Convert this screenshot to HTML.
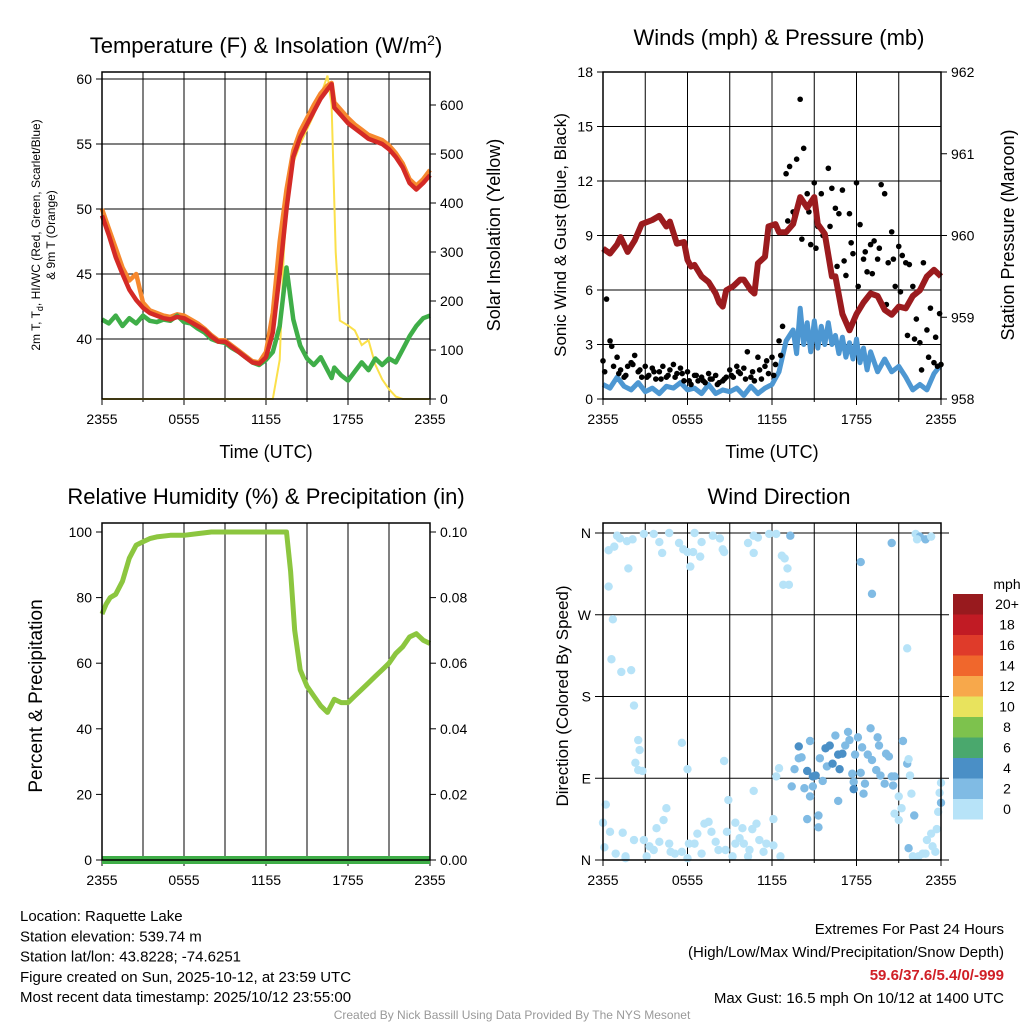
<!DOCTYPE html>
<html><head><meta charset="utf-8"><style>
html,body{margin:0;padding:0;background:#fff;}
svg{display:block;font-family:"Liberation Sans",sans-serif;}
</style></head><body>
<svg id="c" width="1024" height="1024" viewBox="0 0 1024 1024"></svg>
<script>
// ---------- DATA ----------
const xTickLabels = ["2355","0555","1155","1755","2355"];
const tempHours = [0,0.5,1,1.5,2,2.5,3,3.5,4,4.5,5,5.5,6,6.5,7,7.5,8,8.5,9,9.5,10,10.5,11,11.5,12,12.5,13,13.5,14,14.5,15,15.5,16,16.5,16.8,17,17.5,18,18.5,19,19.5,20,20.5,21,21.5,22,22.5,23,23.5,24];
const tempRed = [49.5,48,46.3,45,43.8,43,42.4,42,41.8,41.6,41.5,41.7,41.6,41.3,41,40.7,40.2,39.8,39.8,39.4,39,38.6,38.2,38.1,38.6,40.5,45,50,54,55.5,56.5,57.5,58.5,59.2,59.6,57.8,57.2,56.6,56.2,55.8,55.4,55.2,55,54.6,54,53.2,52,51.5,52,52.6];
const temp9m = [50,48.5,47,45.5,44.5,45,42.8,42.2,42,41.8,41.7,41.9,41.8,41.5,41.2,40.8,40.3,39.9,39.9,39.5,39.1,38.7,38.3,38.2,39,42,47.5,51.5,54.5,56,57,58,58.9,59.5,59.7,58.2,57.6,57,56.5,56.1,55.7,55.5,55.3,54.9,54.3,53.5,52.3,51.8,52.3,53];
const tempDew = [41.5,41.2,41.8,41,41.6,41.2,41.8,41.4,41.3,41.5,41.4,41.8,41.3,41.2,40.8,40.5,40,39.8,39.7,39.3,39,38.6,38.2,38,38.4,39,41,45.5,41.5,39.5,38.5,38,38.6,37.6,37,37.8,37.2,36.8,37.5,38.2,37.6,38.5,38,38.5,38.2,39.2,40.2,41,41.6,41.8];
const solarHours = [0,12.5,13,13.3,13.7,14.5,15.5,16,16.5,16.8,17.1,17.4,18,18.5,19,19.5,20,20.5,21,21.5,22,24];
const solarVals = [0,0,80,300,460,520,580,620,660,600,300,160,150,140,110,120,70,40,20,5,0,0];

const windHours = [0,0.5,1,1.5,2,2.5,3,3.5,4,4.5,5,5.5,6,6.5,7,7.5,8,8.5,9,9.5,10,10.5,11,11.5,12,12.5,13,13.5,13.75,14,14.25,14.5,14.75,15,15.25,15.5,15.75,16,16.25,16.5,16.75,17,17.25,17.5,17.75,18,18.25,18.5,18.75,19,19.5,20,20.5,21,21.5,22,22.5,23,23.5,24];
const windVals = [0.8,0.6,1.2,0.7,0.5,0.9,0.4,0.6,0.3,0.7,0.6,0.9,0.5,0.6,0.3,0.8,0.3,0.5,0.4,0.6,0.2,0.7,0.3,0.6,0.8,1.5,3.2,3.8,2.5,5.0,3.0,4.2,2.6,4.3,2.8,4.0,3.0,4.2,3.0,3.5,2.5,3.4,2.3,3.1,2.2,3.3,2.0,2.8,1.6,2.6,1.5,2.2,1.5,1.8,1.2,0.5,0.8,0.5,1.4,1.9];
const gustHours = [0,0.25,0.5,0.75,1,1.25,1.5,1.75,2,2.25,2.5,2.75,3,3.25,3.5,3.75,4,4.25,4.5,4.75,5,5.25,5.5,5.75,6,6.25,6.5,6.75,7,7.25,7.5,7.75,8,8.25,8.5,8.75,9,9.25,9.5,9.75,10,10.25,10.5,10.75,11,11.25,11.5,11.75,12,12.25,12.5,12.75,13,13.25,13.5,13.75,14,14.25,14.5,14.75,15,15.25,15.5,15.75,16,16.25,16.5,16.75,17,17.25,17.5,17.75,18,18.25,18.5,18.75,19,19.25,19.5,19.75,20,20.25,20.5,20.75,21,21.25,21.5,21.75,22,22.25,22.5,22.75,23,23.25,23.5,23.75,24,
  0.12,0.62,1.12,1.62,2.12,2.62,3.12,3.62,4.12,4.62,5.12,5.62,6.12,6.62,7.12,7.62,8.12,8.62,9.12,9.62,10.12,10.62,11.12,11.62,12.12,12.62,13.12,13.62,14.12,14.62,15.12,15.62,16.12,16.62,17.12,17.62,18.12,18.62,19.12,19.62,20.12,20.62,21.12,21.62,22.12,22.62,23.12,23.62,23.9];
const gustVals = [2.1,5.5,3.2,1.8,2.3,1.6,1.2,1.8,2.0,2.4,1.5,1.2,1.8,1.3,1.7,1.1,1.5,1.8,1.2,1.6,1.9,1.4,1.7,1.0,1.5,0.8,1.3,1.0,1.2,0.9,1.4,1.1,1.3,0.9,1.0,1.2,1.6,1.2,1.8,1.4,1.7,2.6,1.2,1.0,2.3,1.1,1.8,1.4,2.3,1.9,3.2,4.0,12.4,12.8,10.3,13.2,16.5,13.8,11.3,8.5,11.9,9.5,11.3,9.0,12.7,11.6,10.5,10.2,11.5,6.8,10.2,8.0,11.9,9.6,7.7,7.0,8.5,8.7,7.7,11.8,11.3,7.5,9.2,6.2,8.4,7.9,7.5,7.4,6.2,4.4,3.1,7.5,3.8,5.0,2.0,1.8,1.9,
  1.5,2.9,1.4,1.3,1.9,1.6,1.2,1.5,1.1,1.3,1.2,1.4,1.0,1.3,1.0,1.1,0.8,1.1,1.3,1.5,1.1,1.5,1.6,2.1,1.3,2.4,9.8,10.1,8.8,10.3,8.3,9.0,9.5,7.3,7.6,8.6,6.2,8.1,6.9,8.3,5.2,7.7,5.9,3.5,3.3,1.6,2.3,3.4,4.7];
const presHours = [0,0.5,1,1.25,1.75,2.25,2.75,3.5,4,4.5,4.75,5.25,5.75,6,6.25,6.5,7,7.5,8,8.25,8.5,8.75,9.25,9.75,10,10.5,10.75,11,11.5,11.75,12.25,12.5,13,13.5,14,14.5,15,15.25,15.75,16.25,16.5,17,17.5,18,18.5,19,19.5,20,20.5,21,21.5,22,22.5,23,23.5,24];
const presVals = [959.84,959.78,959.89,959.98,959.80,959.94,960.14,960.19,960.24,960.11,960.17,959.90,959.92,959.70,959.62,959.64,959.50,959.43,959.29,959.18,959.13,959.33,959.38,959.46,959.46,959.33,959.29,959.66,959.74,960.11,960.14,960.04,960.04,960.14,960.47,960.34,960.47,960.14,960.02,959.50,959.50,959.04,958.84,959.04,959.18,959.29,959.26,959.09,959.03,959.13,959.11,959.26,959.33,959.50,959.58,959.50];

const rhHours = [0,0.3,0.6,1,1.5,2,2.5,3,3.5,4,5,6,7,8,9,10,11,12,13,13.5,13.8,14.1,14.5,15,15.5,16,16.5,17,17.5,18,18.5,19,19.5,20,20.5,21,21.5,22,22.5,23,23.5,24];
const rhVals = [75,78,80,81,85,92,96,97,98,98.5,99,99,99.5,100,100,100,100,100,100,100,88,70,58,53,50,47,45,49,48,48,50,52,54,56,58,60,63,65,68,69,67,66];
const precipVals = [0,0,0,0,0];

const wdHours = [0.4,0.8,1,1.2,1.7,2.1,1.8,0.4,0.7,0.6,1.3,2.0,2.2,2.5,2.6,2.3,2.5,2.8,0.2,0,0.5,1.4,0.1,0.9,1.6,2.2,2.9,2.9,3.6,4,4.2,4.7,5.4,5.7,6,6.4,6.2,6.9,7,6.5,7.8,8.3,8.5,8.6,10.3,10.7,10.7,11,11.8,12.3,13.3,12.7,12.9,13.1,12.8,13.2,5.6,6,8.6,8.9,10.7,12.5,12.3,13.4,13.6,13.9,13.9,14.1,14.3,14.5,14.7,14.7,14.9,15.1,14.9,14.5,15.3,15.3,15.4,15.6,15.8,15.9,16.1,16.3,16.5,16.7,16.8,16.7,17,17.2,17.4,17.5,17.7,17.8,17.8,17.9,18.1,18.4,18.3,18.5,18.6,18.8,19,19.1,19.4,19.5,19.6,19.7,20,20.1,20.3,20.5,20.7,20.6,21,21.2,21,20.7,21.3,21.6,21.7,21.8,21.9,22.1,21.7,22,22.4,22.7,22.9,23,23.3,23.4,23.6,23.7,23.8,23.9,24,24,20.5,21.6,19.1,18.3,22.2,22.5,22.9,23.3,22.3,3.1,3.3,3.6,4,3.8,4.3,4.5,4.7,4.8,5.1,5.6,6,6.5,6.7,7.2,7.5,7.7,8,8.2,8.7,8.8,9.4,9.4,9.7,9.9,10,10.4,10.6,10.9,11.1,11.4,11.6,12.1,12.1,12.6,10.3,9.2,7,6.1,1.6];
const wdDirs = [341,345,357,354,351,353,321,301,265,221,207,209,170,132,121,107,99,98,61,41,31,30,14,7,4,22,22,359,359,350,338,360,349,342,339,339,323,334,350,360,357,354,342,339,349,338,357,355,359,359,357,335,332,321,303,303,129,100,109,66,76,101,92,81,100,112,125,113,79,98,131,70,92,93,81,45,36,49,112,87,123,103,126,106,137,116,100,65,117,126,141,132,95,86,78,116,135,124,96,73,84,116,145,110,99,135,126,93,84,117,114,92,92,82,70,57,44,51,131,106,111,93,73,49,13,4,4,7,7,22,29,15,9,34,53,74,85,63,349,233,293,328,359,356,353,356,353,4,15,11,20,35,44,57,18,9,7,9,2,18,29,40,42,31,20,11,11,31,41,18,24,35,18,11,34,40,22,9,18,45,16,4,4,4,7,18,2];
const wdSpeeds = [1,1,1,1,1,1,1,1,1,1,1,1,1,1,1,1,1,1,1,1,1,1,1,1,1,1,1,1,1,1,1,1,1,1,1,1,1,1,1,1,1,1,1,1,1,1,1,1,1,1,3,1,1,1,1,1,1,1,1,1,1,1,1,3,3,3,4.2,3,3,4.2,3,3,4.2,4.2,3,3.5,3,3,3,3,4.2,3,4.2,4.2,3,4.2,4.2,3,4.2,3,3,3,3,3,4.2,3,3,3,3,3,3,3,3,3,3,3,3,3,3,3,3,3,3,3,1,1,1,1,3,3,1,1,1,3,3,1,1,1,1,1,1,1,1,1,1,1,1,3,3,1,3,3,1,3,3,1,1,1,1,1,1,1,1,1,1,1,1,1,1,1,1,1,1,1,1,1,1,1,1,1,1,1,1,1,1,1,1,1,1,1,1,1,1,1,1,1,1,1,1,1];

const cbLabels = ["20+","18","16","14","12","10","8","6","4","2","0"];
const cbColors = ["#981a1e","#c11b24","#df3b2a","#f0672c","#f7a84b","#e8e35d","#7dc24d","#4aa86d","#4a8fc6","#80bbe4","#b7e3f8"];

// ---------- HELPERS ----------
const svg = document.getElementById('c');
const NS = "http://www.w3.org/2000/svg";
function mk(tag, attrs, parent){const e=document.createElementNS(NS,tag);for(const k in attrs)e.setAttribute(k,attrs[k]);(parent||svg).appendChild(e);return e;}
function txt(s, x, y, size, anchor, parent, extra){const t=mk('text',Object.assign({x:x,y:y,'font-size':size,'text-anchor':anchor||'middle',fill:'#000'},extra||{}),parent);t.textContent=s;return t;}
function lin(d0,d1,r0,r1){return v=>r0+(v-d0)/(d1-d0)*(r1-r0);}
function linePath(xs, ys, sx, sy){return xs.map((h,i)=>(i?'L':'M')+sx(h).toFixed(1)+','+sy(ys[i]).toFixed(1)).join('');}

function frame(name, L, R, T, B, sx){
  const g = mk('g',{});
  
  
  for(let h=3;h<24;h+=3){mk('line',{x1:sx(h),x2:sx(h),y1:T,y2:B,stroke:'#000','stroke-width':1},g);}
  xTickLabels.forEach((s,i)=>{const x=sx(i*6);mk('line',{x1:x,x2:x,y1:B,y2:B+6,stroke:'#000'},g);txt(s,x,B+25,14,'middle',g);});
  for(let h=0;h<=24;h+=3){const x=sx(h);mk('line',{x1:x,x2:x,y1:B,y2:B+3,stroke:'#000'},g);}
  return g;
}
function border(g,L,R,T,B){mk('rect',{x:L,y:T,width:R-L,height:B-T,fill:'none',stroke:'#000','stroke-width':1.5},g);}

// ---------- PANEL 1: temperature ----------
(function(){
  const L=102,R=430,T=72,B=399;
  const sx=lin(0,24,L,R), sy=lin(40,60,339,79), sr=lin(0,600,399,105);
  const g=frame('temperature-panel',L,R,T,B,sx);
  [40,45,50,55,60].forEach(v=>{mk('line',{x1:L,x2:R,y1:sy(v),y2:sy(v),stroke:'#000'},g);mk('line',{x1:L-6,x2:L,y1:sy(v),y2:sy(v),stroke:'#000'},g);txt(String(v),L-10,sy(v)+5,14,'end',g);});
  for(let v=0;v<=600;v+=100){mk('line',{x1:R,x2:R+6,y1:sr(v),y2:sr(v),stroke:'#000'},g);txt(String(v),R+10,sr(v)+5,14,'start',g);}
  const ys=mk('path',{d:linePath(solarHours,solarVals,sx,sr),fill:'none',stroke:'#fbe04a','stroke-width':2},g);
  
  const go=mk('path',{d:linePath(tempHours,temp9m,sx,sy),fill:'none',stroke:'#f6882e','stroke-width':4.5,'stroke-linejoin':'round'},g);
  
  const gd=mk('path',{d:linePath(tempHours,tempDew,sx,sy),fill:'none',stroke:'#3fae48','stroke-width':4.5,'stroke-linejoin':'round'},g);
  
  const gr=mk('path',{d:linePath(tempHours,tempRed,sx,sy),fill:'none',stroke:'#d42a26','stroke-width':4.5,'stroke-linejoin':'round'},g);
  
  border(g,L,R,T,B);
  const t=mk('text',{x:266,y:53,'font-size':22,'text-anchor':'middle'},g);t.innerHTML='Temperature (F) &amp; Insolation (W/m<tspan dy="-8" font-size="14">2</tspan><tspan dy="8">)</tspan>';
  
  txt('Time (UTC)',266,458,18,'middle',g);
  const yl=mk('text',{transform:'translate(40,235) rotate(-90)','font-size':12,'text-anchor':'middle'},g);
  yl.innerHTML='2m T, T<tspan dy="3" font-size="9">d</tspan><tspan dy="-3">, HI/WC (Red, Green, Scarlet/Blue)</tspan>';
  
  const yl2=mk('text',{transform:'translate(55,235) rotate(-90)','font-size':12,'text-anchor':'middle'},g);yl2.textContent='& 9m T (Orange)';
  const yr=mk('text',{transform:'translate(500,235) rotate(-90)','font-size':18,'text-anchor':'middle'},g);yr.textContent='Solar Insolation (Yellow)';
  
})();

// ---------- PANEL 2: winds ----------
(function(){
  const L=603,R=941,T=72,B=399;
  const sx=lin(0,24,L,R), sy=lin(0,18,B,T), sp=lin(958,962,B,T);
  const g=frame('winds-panel',L,R,T,B,sx);
  for(let v=0;v<=18;v+=3){mk('line',{x1:L,x2:R,y1:sy(v),y2:sy(v),stroke:'#000'},g);mk('line',{x1:L-6,x2:L,y1:sy(v),y2:sy(v),stroke:'#000'},g);txt(String(v),L-10,sy(v)+5,14,'end',g);}
  for(let v=958;v<=962;v++){mk('line',{x1:R,x2:R+6,y1:sp(v),y2:sp(v),stroke:'#000'},g);txt(String(v),R+10,sp(v)+5,14,'start',g);}
  const wb=mk('path',{d:linePath(windHours,windVals,sx,sy),fill:'none',stroke:'#4d97d2','stroke-width':5,'stroke-linejoin':'round'},g);
  
  gustHours.forEach((h,i)=>{const c=mk('circle',{cx:sx(h),cy:sy(gustVals[i]),r:2.8,fill:'#000'},g);
    
    });
  const pp=mk('path',{d:linePath(presHours,presVals,sx,sp),fill:'none',stroke:'#9b1b1e','stroke-width':6,'stroke-linejoin':'round'},g);
  
  border(g,L,R,T,B);
  txt('Winds (mph) & Pressure (mb)',779,45,22,'middle',g);
  txt('Time (UTC)',772,458,18,'middle',g);
  const yl=mk('text',{transform:'translate(566,235) rotate(-90)','font-size':17,'text-anchor':'middle'},g);yl.textContent='Sonic Wind & Gust (Blue, Black)';
  const yr=mk('text',{transform:'translate(1014,235) rotate(-90)','font-size':18,'text-anchor':'middle'},g);yr.textContent='Station Pressure (Maroon)';
})();

// ---------- PANEL 3: RH ----------
(function(){
  const L=102,R=430,T=523,B=860;
  const sx=lin(0,24,L,R), sy=lin(0,100,B,532), spr=lin(0,0.1,B,532);
  const g=frame('humidity-panel',L,R,T,B,sx);
  for(let v=0;v<=100;v+=20){mk('line',{x1:L-6,x2:L,y1:sy(v),y2:sy(v),stroke:'#000'},g);txt(String(v),L-10,sy(v)+5,14,'end',g);}
  for(let v=0;v<=5;v++){mk('line',{x1:R,x2:R+6,y1:spr(v*0.02),y2:spr(v*0.02),stroke:'#000'},g);txt((v*0.02).toFixed(2),R+10,spr(v*0.02)+5,14,'start',g);}
  const ph=[0,6,12,18,24];
  const pl=mk('path',{d:linePath(ph,precipVals,sx,spr),fill:'none',stroke:'#3fae48','stroke-width':8},g);
  
  const rl=mk('path',{d:linePath(rhHours,rhVals,sx,sy),fill:'none',stroke:'#8cc63f','stroke-width':5,'stroke-linejoin':'round'},g);
  
  border(g,L,R,T,B);
  txt('Relative Humidity (%) & Precipitation (in)',266,504,22,'middle',g);
  const yl=mk('text',{transform:'translate(42,696) rotate(-90)','font-size':19,'text-anchor':'middle'},g);yl.textContent='Percent & Precipitation';
})();

// ---------- PANEL 4: wind direction ----------
(function(){
  const L=603,R=941,T=523,B=860;
  const sx=lin(0,24,L,R), sy=lin(0,360,860,533);
  const g=frame('wind-direction-panel',L,R,T,B,sx);
  const dl=[["N",0],["E",90],["S",180],["W",270],["N",360]];
  dl.forEach(d=>{mk('line',{x1:L-8,x2:R+8,y1:sy(d[1]),y2:sy(d[1]),stroke:'#000'},g);txt(d[0],L-12,sy(d[1])+5,14,'end',g);});
  function col(s){const i=Math.min(10,Math.floor(s/2));return cbColors[10-i];}
  wdHours.forEach((h,i)=>{const c=mk('circle',{cx:sx(h),cy:sy(wdDirs[i]),r:4.2,fill:col(wdSpeeds[i])},g);
    
    });
  border(g,L,R,T,B);
  txt('Wind Direction',779,504,22,'middle',g);
  const yl=mk('text',{transform:'translate(568,696) rotate(-90)','font-size':17,'text-anchor':'middle'},g);yl.textContent='Direction (Colored By Speed)';
  const cb=mk('g',{},svg);
  
  txt('mph',1007,589,14,'middle',cb);
  cbColors.forEach((c,i)=>{mk('rect',{x:953,y:594+i*20.5,width:30,height:20.5,fill:c},cb);txt(cbLabels[i],1007,609+i*20.5,14,'middle',cb);});
})();

// ---------- TEXT ----------
const info=["Location: Raquette Lake","Station elevation: 539.74 m","Station lat/lon: 43.8228; -74.6251","Figure created on Sun, 2025-10-12, at 23:59 UTC","Most recent data timestamp: 2025/10/12 23:55:00"];
const ig=mk('g',{});
info.forEach((s,i)=>txt(s,20,921+i*20.3,15,'start',ig));
const eg=mk('g',{});
txt('Extremes For Past 24 Hours',1004,934,15,'end',eg);
txt('(High/Low/Max Wind/Precipitation/Snow Depth)',1004,957,15,'end',eg);
txt('59.6/37.6/5.4/0/-999',1004,980,15,'end',eg,{fill:'#d01f26','font-weight':'bold'});
txt('Max Gust: 16.5 mph On 10/12 at 1400 UTC',1004,1003,15,'end',eg);
const ft=txt('Created By Nick Bassill Using Data Provided By The NYS Mesonet',512,1019,12,'middle',svg,{fill:'#999'});

</script>
</body></html>
